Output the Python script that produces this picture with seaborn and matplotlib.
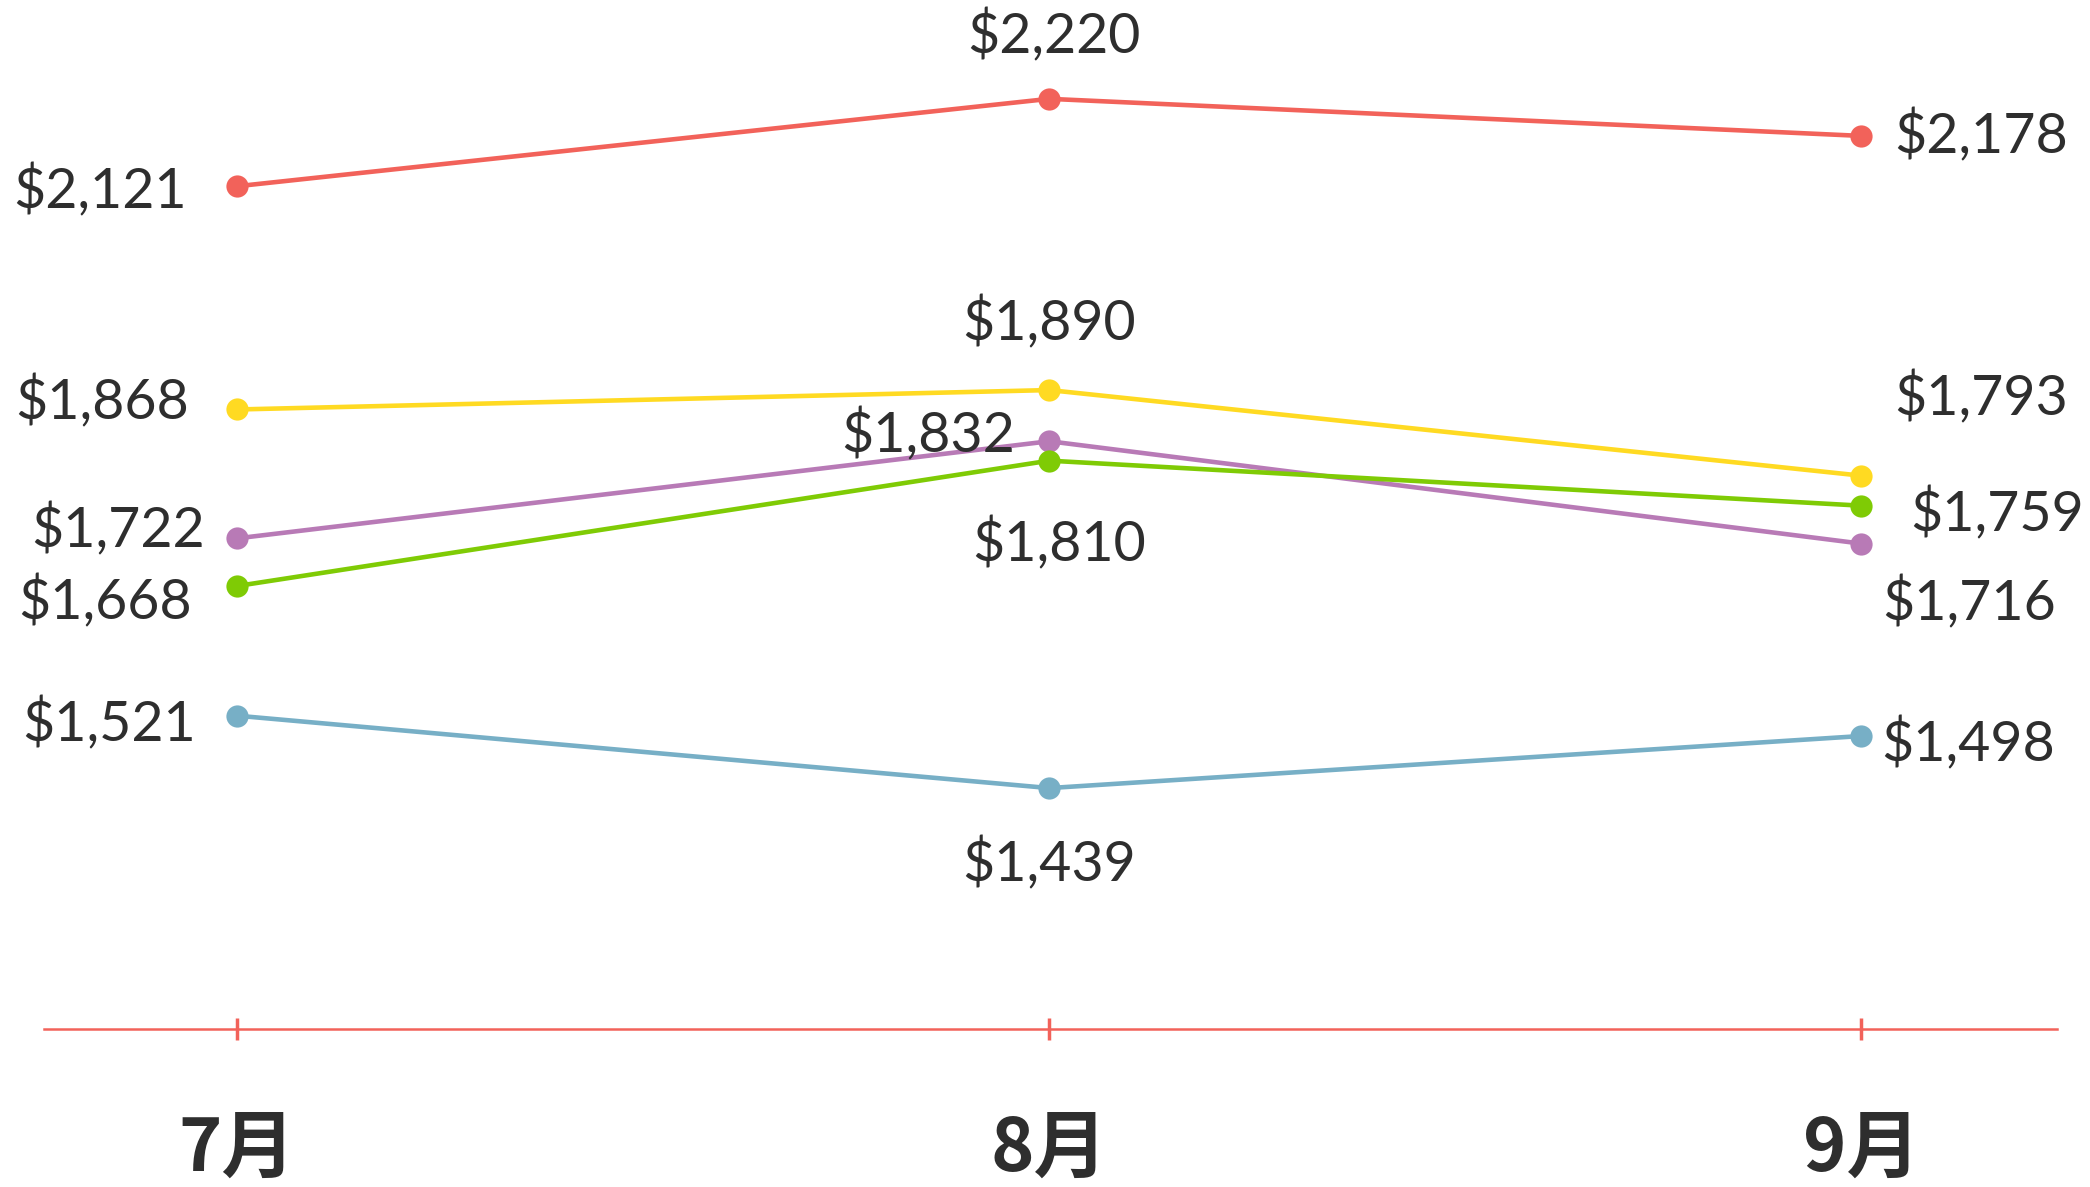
import numpy as np
import pandas as pd
import matplotlib
matplotlib.use("Agg")
import matplotlib.pyplot as plt
import seaborn as sns

months = ["7月", "8月", "9月"]
series_names = ["S1", "S2", "S3", "S4", "S5"]
s1 = [2121, 2220, 2178]
s2 = [1868, 1890, 1793]
s3 = [1722, 1832, 1716]
s4 = [1668, 1810, 1759]
s5 = [1521, 1439, 1498]
colors = ["#F2625A", "#FFDA22", "#B87AB6", "#7FCB05", "#77AFC6"]

# label offsets (points) per series, per month
offsets = [
    [(-36, -4, "right"), (3, 45, "center"), (24, 0, "left")],
    [(-35, 5, "right"), (0, 48, "center"), (24, 56, "left")],
    [(-23, 6, "right"), (-25, 4, "right"), (15, -43, "left")],
    [(-33, -12, "right"), (7, -60, "center"), (35, -6, "left")],
    [(-30, -6, "right"), (0, -55, "center"), (14, -6, "left")],
]

values = [s1, s2, s3, s4, s5]
df = pd.DataFrame({
    "month": months * len(series_names),
    "series": np.repeat(series_names, len(months)),
    "value": np.concatenate(values),
})

sns.set_theme(style="white")
plt.rcParams["font.family"] = ["Lato", "Noto Sans CJK SC", "DejaVu Sans"]

fig = plt.figure(figsize=(20.9, 11.87), dpi=100)
ax = fig.add_axes([44 / 2090, 158 / 1187, 2013 / 2090, 1029 / 1187])

sns.lineplot(data=df, x="month", y="value", hue="series", palette=colors,
             marker="o", markersize=16, markeredgewidth=0, linewidth=3.3,
             legend=False, sort=False, ax=ax)

for vals, offs in zip(values, offsets):
    for i, (v, (dx, dy, ha)) in enumerate(zip(vals, offs)):
        ax.annotate(f"${v:,}", (i, v), xytext=(dx, dy), textcoords="offset points",
                    ha=ha, va="center", fontsize=40, color="#2E2E2E")

ax.set_xlim(-0.238, 2.241)
ax.set_ylim(1166, 2332)
ax.set_xlabel("")
ax.set_ylabel("")
ax.set_yticks([])
for side in ["top", "right", "left"]:
    ax.spines[side].set_visible(False)
ax.spines["bottom"].set_color("#F2625A")
ax.spines["bottom"].set_linewidth(1.8)
ax.tick_params(axis="x", direction="inout", length=16, width=2.5, color="#F2625A",
               pad=52, bottom=True)
for lbl in ax.get_xticklabels():
    lbl.set_fontfamily(["Noto Sans CJK SC", "DejaVu Sans"])
    lbl.set_fontweight("bold")
    lbl.set_fontsize(53)
    lbl.set_color("#2E2E2E")

fig.savefig("out.png", dpi=100)
